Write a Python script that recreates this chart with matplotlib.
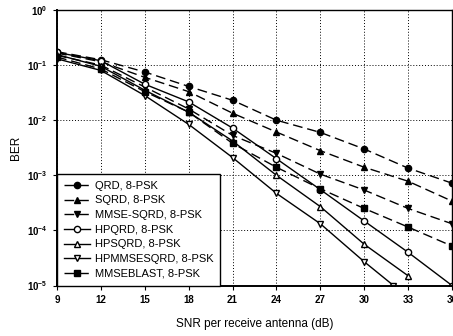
import numpy as np
import matplotlib
matplotlib.use("Agg")
import matplotlib.pyplot as plt

plt.rcParams['font.family'] = ['Liberation Sans', 'DejaVu Sans']
plt.rcParams['mathtext.fontset'] = 'custom'
plt.rcParams['mathtext.rm'] = 'Liberation Sans'
plt.rcParams['mathtext.bf'] = 'Liberation Sans:bold'

# SNR points (dB)
snr = [9, 12, 15, 18, 21, 24, 27, 30, 33, 36]

# BER values
ber_qrd = [0.175, 0.125, 0.075, 0.041, 0.023, 0.010, 0.0060, 0.0030, 0.00135, 0.00072]
ber_sqrd = [0.165, 0.115, 0.060, 0.033, 0.0134, 0.0061, 0.0028, 0.0014, 0.00078, 0.00034]
ber_mmse_sqrd = [0.150, 0.100, 0.040, 0.016, 0.0053, 0.0025, 0.00105, 0.00054, 0.00025, 0.000132]
ber_hpqrd = [0.170, 0.120, 0.045, 0.0215, 0.0072, 0.0020, 0.00055, 0.000148, 0.000040, 0.000010]
snr_hpsqrd = [9, 12, 15, 18, 21, 24, 27, 30, 33]
ber_hpsqrd = [0.155, 0.095, 0.035, 0.014, 0.0042, 0.0010, 0.00027, 0.000056, 0.000015]
snr_hpmmse = [9, 12, 15, 18, 21, 24, 27, 30, 32]
ber_hpmmse = [0.130, 0.080, 0.028, 0.0084, 0.0021, 0.00047, 0.000132, 0.000027, 0.000010]
ber_mmseblast = [0.140, 0.085, 0.033, 0.014, 0.0038, 0.0014, 0.00057, 0.00025, 0.000115, 0.000052]

fig = plt.figure(figsize=(4.53, 3.36), dpi=100)
ax = fig.add_axes([57 / 453, (336 - 285.5) / 336, (452 - 57) / 453, (285.5 - 10) / 336])

dash = (0, (7, 3.5))
ms = 4.5
ax.plot(snr, ber_qrd, color='k', lw=1, ls=dash, marker='o', ms=ms, mfc='k', label='QRD, 8-PSK')
ax.plot(snr, ber_sqrd, color='k', lw=1, ls=dash, marker='^', ms=ms, mfc='k', label='SQRD, 8-PSK')
ax.plot(snr, ber_mmse_sqrd, color='k', lw=1, ls=dash, marker='v', ms=ms, mfc='k', label='MMSE-SQRD, 8-PSK')
ax.plot(snr, ber_hpqrd, color='k', lw=1, ls='-', marker='o', ms=ms, mfc='white', label='HPQRD, 8-PSK')
ax.plot(snr_hpsqrd, ber_hpsqrd, color='k', lw=1, ls='-', marker='^', ms=ms, mfc='white', label='HPSQRD, 8-PSK')
ax.plot(snr_hpmmse, ber_hpmmse, color='k', lw=1, ls='-', marker='v', ms=ms, mfc='white', label='HPMMSESQRD, 8-PSK')
ax.plot(snr, ber_mmseblast, color='k', lw=1, ls=dash, marker='s', ms=ms, mfc='k', label='MMSEBLAST, 8-PSK')

ax.set_yscale('log')
ax.set_xlim(9, 36)
ax.set_ylim(1e-5, 1)
ax.set_xticks(snr)
ax.set_xticklabels([str(s) for s in snr], fontsize=7, fontweight='bold')
ax.set_yticks([1, 1e-1, 1e-2, 1e-3, 1e-4, 1e-5])
ax.set_yticklabels([r'$\mathbf{10^{0}}$', r'$\mathbf{10^{-1}}$', r'$\mathbf{10^{-2}}$',
                    r'$\mathbf{10^{-3}}$', r'$\mathbf{10^{-4}}$', r'$\mathbf{10^{-5}}$'], fontsize=7)
ax.minorticks_off()
ax.tick_params(direction='out', length=3, width=0.8, colors='k', pad=4)
ax.grid(True, which='major', color='k', ls=(0, (1, 2)), lw=0.7)
for s in ax.spines.values():
    s.set_color('k')
    s.set_linewidth(1)
ax.spines['left'].set_linewidth(1.4)
ax.spines['bottom'].set_linewidth(1.4)

ax.set_xlabel('SNR per receive antenna (dB)', fontsize=8.5, labelpad=9)
ax.set_ylabel('BER', fontsize=8.5, labelpad=3)

leg = ax.legend(loc='lower left', fontsize=8, frameon=True, fancybox=False,
                edgecolor='k', borderaxespad=0, handlelength=2.4, labelspacing=0.42,
                borderpad=0.6, handletextpad=0.4)
leg.get_frame().set_linewidth(1)
leg.get_frame().set_alpha(1)

fig.savefig('out.png', dpi=100)
